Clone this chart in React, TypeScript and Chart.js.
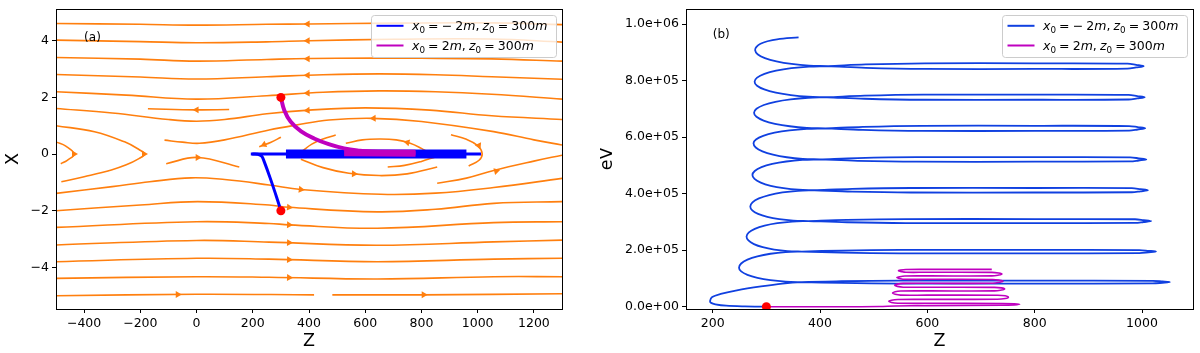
import React, { useEffect, useRef } from 'react';
import { Chart, registerables } from 'chart.js';

Chart.register(...registerables);

type Pt = [number, number];

// ---------------- shared text ----------------
const legendLabels = ['x₀ = − 2m, z₀ = 300m', 'x₀ = 2m, z₀ = 300m'];

// ---------------- panel (a): ticks ----------------
const aZTicks = [-400, -200, 0, 200, 400, 600, 800, 1000, 1200];
const aZLabels = ['−400', '−200', '0', '200', '400', '600', '800', '1000', '1200'];
const aXTicks = [-4, -2, 0, 2, 4];
const aXLabels = ['−4', '−2', '0', '2', '4'];

// ---------------- panel (a): field lines (z, x) ----------------
const sA1: Pt[] = [[-500, 4.61], [-200, 4.58], [0, 4.55], [250, 4.58], [400, 4.59], [700, 4.62], [1050, 4.63], [1300, 4.57]];
const sA2: Pt[] = [[-500, 4.02], [-200, 3.97], [0, 3.93], [250, 3.96], [400, 4.0], [700, 4.05], [1050, 4.06], [1300, 3.95]];
const sA3: Pt[] = [[-500, 3.41], [-200, 3.35], [0, 3.28], [250, 3.34], [500, 3.38], [800, 3.38], [1050, 3.36], [1300, 3.28]];
const sA4: Pt[] = [[-500, 2.81], [-200, 2.72], [0, 2.65], [250, 2.73], [450, 2.8], [650, 2.83], [850, 2.8], [1050, 2.73], [1300, 2.64]];
const sA5: Pt[] = [[-500, 2.2], [-250, 2.08], [0, 1.94], [250, 2.06], [450, 2.18], [650, 2.23], [850, 2.2], [1050, 2.11], [1300, 1.94]];
const sA6: Pt[] = [[-500, 1.61], [-300, 1.45], [-100, 1.22], [0, 1.16], [100, 1.22], [250, 1.42], [400, 1.55], [600, 1.63], [830, 1.55], [1050, 1.35], [1300, 1.22]];
const sA7: Pt[] = [[-173, 1.6], [0, 1.56], [116, 1.57]];
const sA8: Pt[] = [[-500, 1.0], [-363, 0.79], [-256, 0.43], [-205, 0.16], [-185, 0.0], [-205, -0.16], [-250, -0.38], [-303, -0.56], [-400, -0.8], [-481, -0.98]];
const sA9: Pt[] = [[-500, 0.43], [-465, 0.28], [-436, 0.0], [-460, -0.22], [-483, -0.34]];
const sA10: Pt[] = [[-114, 0.49], [-50, 0.42], [10, 0.38], [100, 0.5], [258, 0.85], [353, 1.02], [471, 1.2], [625, 1.26], [800, 1.15], [1057, 0.79], [1200, 0.5], [1300, 0.32]];
const sA11: Pt[] = [[-500, -1.39], [-300, -1.15], [-167, -0.98], [-19, -0.84], [100, -0.9], [258, -1.09], [371, -1.25], [655, -1.42], [850, -1.38], [1057, -1.18], [1300, -0.86]];
const sA12: Pt[] = [[-500, -2.0], [-200, -1.8], [4, -1.68], [258, -1.8], [329, -1.88], [643, -2.04], [850, -1.95], [1057, -1.74], [1300, -1.68]];
const sA13: Pt[] = [[-500, -2.59], [0, -2.39], [258, -2.45], [329, -2.5], [643, -2.62], [1057, -2.42], [1300, -2.39]];
const sA14: Pt[] = [[-500, -3.21], [0, -3.05], [258, -3.11], [643, -3.22], [1057, -3.1], [1300, -3.04]];
const sA15: Pt[] = [[-500, -3.8], [0, -3.68], [258, -3.71], [643, -3.8], [1057, -3.71], [1300, -3.68]];
const sA16: Pt[] = [[-500, -4.39], [0, -4.33], [258, -4.35], [643, -4.41], [1057, -4.33], [1300, -4.33]];
const sA17: Pt[] = [[-500, -5.0], [0, -4.95], [418, -4.97]];
const sA18: Pt[] = [[483, -4.97], [800, -4.97], [1300, -4.93]];
const sA19: Pt[] = [[-108, -0.34], [4, -0.12], [152, -0.46]];
const sA20: Pt[] = [[300, 0.59], [265, 0.42], [223, 0.26]];
const sA21: Pt[] = [[375, 0.1], [410, 0.35], [450, 0.53], [495, 0.67]];
const sA22: Pt[] = [[531, 0.38], [590, 0.5], [650, 0.53], [710, 0.5], [760, 0.38], [800, 0.2], [820, 0.08]];
const sA23: Pt[] = [[680, -0.46], [740, -0.4], [800, -0.26], [850, -0.1]];
const sA24: Pt[] = [[371, -0.18], [450, -0.48], [542, -0.68], [650, -0.76], [749, -0.7], [856, -0.46]];
const sA25: Pt[] = [[905, 0.68], [960, 0.52], [1000, 0.3], [1016, 0.02], [1005, -0.22], [968, -0.42]];
const sA26: Pt[] = [[856, -1.03], [960, -0.85], [1057, -0.58], [1200, -0.25], [1300, -0.04]];

// arrow heads on the field lines and their directions (degrees, clockwise from up)
const aArrowPts: Pt[] = [
  [395, 4.59], [395, 4.0], [395, 3.36], [395, 2.78], [395, 2.15], [395, 1.54],
  [0, 1.56], [630, 1.26], [750, 0.41], [240, 0.33],
  [-436, 0.0], [-187, 0.0], [4, -0.12], [560, -0.7], [1004, 0.3], [1066, -0.6],
  [371, -1.25], [329, -1.88], [329, -2.5], [329, -3.13], [329, -3.73], [329, -4.36],
  [-67, -4.96], [808, -4.97],
];
const aArrowDirs = [
  270, 270, 270, 270, 268, 266,
  270, 268, 283, 247,
  90, 90, 90, 92, 155, 76,
  97, 95, 92, 92, 92, 92,
  90, 90,
];

// ---------------- panel (a): trajectories (z, x) ----------------
const aBlueCurve: Pt[] = [[300, -2.0], [288, -1.62], [262, -0.85], [240, -0.25], [232, -0.08], [218, -0.01], [198, 0.0]];
const aBlueThin: Pt[] = [[193, 0.0], [1012, 0.0]];
const aBlueBand: Pt[] = [[318, 0.0], [960, 0.0]];
const aMagCurve: Pt[] = [[300, 2.0], [312, 1.55], [335, 1.14], [372, 0.8], [418, 0.55], [470, 0.35], [525, 0.2], [580, 0.12], [631, 0.08], [700, 0.05], [779, 0.03]];
const aMagBand: Pt[] = [[525, 0.05], [779, 0.03]];
const aStartPts: Pt[] = [[300, 2.0], [300, -2.0]];

// ---------------- panel (b): ticks ----------------
const bZTicks = [200, 400, 600, 800, 1000];
const bZLabels = ['200', '400', '600', '800', '1000'];
const bETicks = [0, 200000, 400000, 600000, 800000, 1000000];
const bELabels = ['0.0e+00', '2.0e+05', '4.0e+05', '6.0e+05', '8.0e+05', '1.0e+06'];

// ---------------- panel (b): energy vs z (z, eV) ----------------
const bBlue: Pt[] = [
  [300, 0], [260, 1000], [225, 3500], [205, 8500], [197, 13500], [195, 20000],
  [199, 34000], [215, 45000], [245, 58000], [290, 72000], [330, 82000],
  [366, 87000],
  [440, 90000], [550, 92000], [800, 92000], [1020, 91500], [1038, 89300], [1052, 87000], [1038, 84700], [1020, 82500], [800, 82000], [550, 82000], [440, 84000],
  [366, 87000],
  [335.7, 88730], [307.5, 93830], [283.3, 101940], [264.7, 112500], [253, 124790], [249, 138000],
  [253, 152760], [264.7, 166500], [283.3, 178300], [307.5, 187360], [335.7, 193060],
  [366, 195000],
  [440, 198600], [550, 201000], [800, 201000], [995, 200400], [1012, 197800], [1026, 195000], [1012, 192200], [995, 189600], [800, 189000], [550, 189000], [440, 191400],
  [366, 195000],
  [339.3, 196800], [314.5, 202100], [293.2, 210530], [276.8, 221500], [266.5, 234270], [263, 248000],
  [266.9, 262250], [278.4, 275500], [296.7, 286890], [320.5, 295630], [348.2, 301130],
  [378, 303000],
  [450, 307200], [560, 310000], [800, 310000], [987, 309300], [1003, 306300], [1017, 303000], [1003, 299700], [987, 296700], [800, 296000], [560, 296000], [450, 298800],
  [378, 303000],
  [350, 304730], [324, 309830], [301.6, 317940], [284.5, 328500], [273.7, 340790], [270, 354000],
  [274.1, 369020], [286.1, 383000], [305.2, 395010], [330, 404230], [358.9, 410030],
  [390, 412000],
  [460, 416800], [570, 420000], [800, 420000], [981, 419200], [997, 415800], [1011, 412000], [997, 408200], [981, 404800], [800, 404000], [570, 404000], [460, 407200],
  [390, 412000],
  [360, 413840], [332, 419240], [308, 427820], [289.5, 439000], [277.9, 452010], [274, 466000],
  [278.3, 480250], [290.9, 493500], [310.9, 504890], [337, 513630], [367.4, 519130],
  [400, 521000],
  [470, 525800], [580, 529000], [800, 529000], [978, 528200], [994, 524800], [1008, 521000], [994, 517200], [978, 513800], [800, 513000], [580, 513000], [470, 516200],
  [400, 521000],
  [367.9, 522940], [338, 528640], [312.3, 537700], [292.6, 549500], [280.2, 563240], [276, 578000],
  [280.6, 591730], [294, 604500], [315.3, 615470], [343, 623900], [375.3, 629200],
  [410, 631000],
  [480, 636400], [590, 640000], [800, 640000], [976, 639100], [992, 635200], [1006, 631000], [992, 626800], [976, 622900], [800, 622000], [590, 622000], [480, 625600],
  [410, 631000],
  [375.6, 632870], [343.5, 638370], [316, 647110], [294.8, 658500], [281.5, 671750], [277, 686000],
  [281.6, 700250], [295.2, 713500], [316.8, 724890], [345, 733630], [377.8, 739130],
  [413, 741000],
  [483, 746400], [593, 750000], [800, 750000], [975, 749100], [991, 745200], [1005, 741000], [991, 736800], [975, 732900], [800, 732000], [593, 732000], [483, 735600],
  [413, 741000],
  [378, 742870], [345.5, 748370], [317.6, 757110], [296.1, 768500], [282.6, 781750], [278, 796000],
  [282.7, 810250], [296.4, 823500], [318.1, 834890], [346.5, 843630], [379.5, 849130],
  [415, 851000],
  [485, 857000], [595, 861000], [800, 861000], [973, 860000], [989, 855700], [1003, 851000], [989, 846300], [973, 842000], [800, 841000], [595, 841000], [485, 845000],
  [415, 851000],
  [379.8, 852940], [347, 858640], [318.8, 867700], [297.2, 879500], [283.6, 893240], [279, 908000],
  [281.5, 919000], [289, 930000], [302, 939000], [320, 946000], [360, 953000],
];
const bMag: Pt[] = [
  [300, 0], [450, 0], [510, 600], [540, 2500], [600, 4000], [740, 5000], [762, 6500], [772, 8500], [762, 10500], [740, 11500],
  [600, 12000], [545, 12500], [533, 15000], [528, 19000], [533, 23000], [545, 25500],
  [600, 26000], [730, 26500], [745, 29000], [751, 33500], [745, 38500], [730, 40500],
  [600, 41000], [550, 41000], [540, 44000], [535, 48500], [540, 53000], [550, 55500],
  [600, 56000], [725, 56000], [738, 59000], [744, 62500], [738, 66500], [725, 68500],
  [600, 69000], [555, 69000], [544, 72000], [539, 76000], [544, 80000], [555, 82500],
  [600, 83000], [722, 83000], [735, 86500], [741, 90000], [735, 93500], [722, 96500],
  [600, 97000], [558, 97000], [548, 100000], [543, 103000], [548, 106000], [558, 108500],
  [600, 109000], [720, 109000], [733, 112000], [739, 115500], [733, 119000], [720, 121500],
  [600, 122000], [560, 122000], [550, 125000], [546, 127000], [550, 129500], [560, 131500],
  [600, 132000], [720, 132000],
];
const bStartPts: Pt[] = [[300, 0]];

// ---------------- styling ----------------
const ORANGE = '#ff7f0e';
const BLUE = '#0000ff';
const BLUE_B = '#1040e0';
const MAG = '#bf00bf';
const RED = '#ff0000';
const FAMILY = '"DejaVu Sans", "Liberation Sans", sans-serif';
const tickFont = { family: FAMILY, size: 12.5 };
const titleFont = { family: FAMILY, size: 17.5 };

const toXY = (pts: Pt[]) => pts.map(([x, y]) => ({ x, y }));

function lineDs(pts: Pt[], color: string, width: number, order: number, tension = 0.4) {
  return {
    data: toXY(pts),
    borderColor: color,
    backgroundColor: color,
    borderWidth: width,
    pointRadius: 0,
    pointHoverRadius: 0,
    tension,
    fill: false,
    order,
    borderCapStyle: 'butt',
    borderJoinStyle: 'round',
  };
}

function pointDs(pts: Pt[], color: string, style: string, radius: number, order: number, rot?: number[]) {
  return {
    data: toXY(pts),
    showLine: false,
    pointStyle: style,
    pointRadius: radius,
    pointHoverRadius: radius,
    pointRotation: rot ?? 0,
    pointBackgroundColor: color,
    pointBorderColor: color,
    pointBorderWidth: 0,
    order,
  };
}

function axis(min: number, max: number, ticks: number[], labels: string[], size: number, isX: boolean, title: string, titlePad: any) {
  return {
    type: 'linear',
    min,
    max,
    afterBuildTicks: (s: any) => {
      s.ticks = ticks.map((v) => ({ value: v }));
    },
    afterFit: (s: any) => {
      if (isX) s.height = size;
      else s.width = size;
      s.paddingTop = 0;
      s.paddingBottom = 0;
      s.paddingLeft = 0;
      s.paddingRight = 0;
    },
    ticks: {
      callback: (_v: any, i: number) => labels[i],
      font: tickFont,
      color: '#000',
      padding: 3,
      autoSkip: false,
      maxRotation: 0,
      minRotation: 0,
    },
    grid: { display: true, drawOnChartArea: false, drawTicks: true, tickLength: 4, color: '#000', lineWidth: 1 },
    border: { display: false },
    title: { display: true, text: title, font: titleFont, color: '#000', padding: titlePad },
  };
}

function drawMath(ctx: CanvasRenderingContext2D, s: string, x: number, y: number, size: number) {
  let cx = x;
  ctx.fillStyle = '#000';
  ctx.textAlign = 'left';
  ctx.textBaseline = 'alphabetic';
  for (const ch of s) {
    if (ch === ' ') {
      cx += size * 0.25;
      continue;
    }
    if (ch === '₀') {
      ctx.font = `${size * 0.7}px ${FAMILY}`;
      ctx.fillText('0', cx, y + size * 0.2);
      cx += ctx.measureText('0').width;
      continue;
    }
    ctx.font = (/[a-z]/i.test(ch) ? 'italic ' : '') + `${size}px ${FAMILY}`;
    ctx.fillText(ch, cx, y);
    cx += ctx.measureText(ch).width;
  }
}

function annotPlugin(tag: string, tagAt: Pt, colors: string[]) {
  return {
    id: 'annot',
    afterDatasetsDraw(chart: any) {
      const { ctx, chartArea: ca } = chart;
      ctx.save();
      ctx.strokeStyle = '#000';
      ctx.lineWidth = 1;
      ctx.strokeRect(ca.left + 0.5, ca.top + 0.5, ca.right - ca.left, ca.bottom - ca.top);
      ctx.restore();
    },
    afterDraw(chart: any) {
      const { ctx, chartArea: ca, scales } = chart;
      ctx.save();
      ctx.fillStyle = '#000';
      ctx.font = `12px ${FAMILY}`;
      ctx.textAlign = 'left';
      ctx.textBaseline = 'alphabetic';
      ctx.fillText(tag, scales.x.getPixelForValue(tagAt[0]), scales.y.getPixelForValue(tagAt[1]));

      const w = 185;
      const h = 42;
      const bx = ca.right - 5.5 - w;
      const by = ca.top + 6.5;
      ctx.beginPath();
      if ((ctx as any).roundRect) (ctx as any).roundRect(bx, by, w, h, 3);
      else ctx.rect(bx, by, w, h);
      ctx.fillStyle = 'rgba(255,255,255,0.8)';
      ctx.fill();
      ctx.strokeStyle = '#cccccc';
      ctx.lineWidth = 1;
      ctx.stroke();
      legendLabels.forEach((lab, i) => {
        const ry = by + 10.3 + i * 19.7;
        ctx.strokeStyle = colors[i];
        ctx.lineWidth = 2;
        ctx.beginPath();
        ctx.moveTo(bx + 5, ry);
        ctx.lineTo(bx + 32, ry);
        ctx.stroke();
        drawMath(ctx, lab, bx + 40.5, ry + 4.5, 12.5);
      });
      ctx.restore();
    },
  };
}

const aStreams: Pt[][] = [sA1, sA2, sA3, sA4, sA5, sA6, sA7, sA8, sA9, sA10, sA11, sA12, sA13, sA14, sA15, sA16, sA17, sA18, sA19, sA20, sA21, sA22, sA23, sA24, sA25, sA26];

function configA(): any {
  return {
    type: 'line',
    data: {
      datasets: [
        ...aStreams.map((p) => lineDs(p, ORANGE, 1.6, 10)),
        pointDs(aArrowPts, ORANGE, 'triangle', 4, 9, aArrowDirs),
        lineDs(aBlueThin, BLUE, 3, 5, 0),
        lineDs(aBlueBand, BLUE, 9, 5, 0),
        lineDs(aBlueCurve, BLUE, 3, 5),
        lineDs(aMagCurve, MAG, 4, 4),
        lineDs(aMagBand, MAG, 7, 4, 0),
        pointDs(aStartPts, RED, 'circle', 4.5, 1),
      ],
    },
    options: {
      responsive: false,
      animation: false,
      devicePixelRatio: 1,
      events: [],
      layout: { padding: { left: 0, right: 38, top: 9, bottom: 0 } },
      plugins: { legend: { display: false }, tooltip: { enabled: false } },
      scales: {
        x: axis(-500, 1300, aZTicks, aZLabels, 44, true, 'Z', { top: 0, bottom: 0.8 }),
        y: axis(-5.47, 5.12, aXTicks, aXLabels, 56, false, 'X', { top: 2.9, bottom: 0 }),
      },
    },
    plugins: [annotPlugin('(a)', [-400, 4], [BLUE, MAG])],
  };
}

function configB(): any {
  return {
    type: 'line',
    data: {
      datasets: [
        lineDs(bBlue, BLUE_B, 1.8, 5, 0.35),
        lineDs(bMag, MAG, 1.6, 4),
        pointDs(bStartPts, RED, 'circle', 4.5, 1),
      ],
    },
    options: {
      responsive: false,
      animation: false,
      devicePixelRatio: 1,
      events: [],
      layout: { padding: { left: 0, right: 7, top: 9, bottom: 0 } },
      plugins: { legend: { display: false }, tooltip: { enabled: false } },
      scales: {
        x: axis(150.2, 1095, bZTicks, bZLabels, 44, true, 'Z', { top: 0, bottom: 0.8 }),
        y: axis(-8100, 1053100, bETicks, bELabels, 86, false, 'eV', { top: -2.8, bottom: 0 }),
      },
    },
    plugins: [annotPlugin('(b)', [200, 950000], [BLUE_B, MAG])],
  };
}

export default function App() {
  const refA = useRef<HTMLCanvasElement>(null);
  const refB = useRef<HTMLCanvasElement>(null);
  useEffect(() => {
    const a = new Chart(refA.current as HTMLCanvasElement, configA());
    const b = new Chart(refB.current as HTMLCanvasElement, configB());
    return () => {
      a.destroy();
      b.destroy();
    };
  }, []);
  return (
    <div style={{ position: 'fixed', left: 0, top: 0, width: 1200, height: 353, background: '#fff' }}>
      <canvas ref={refA} width={600} height={353} style={{ position: 'absolute', left: 0, top: 0, width: 600, height: 353 }} />
      <canvas ref={refB} width={600} height={353} style={{ position: 'absolute', left: 600, top: 0, width: 600, height: 353 }} />
    </div>
  );
}
